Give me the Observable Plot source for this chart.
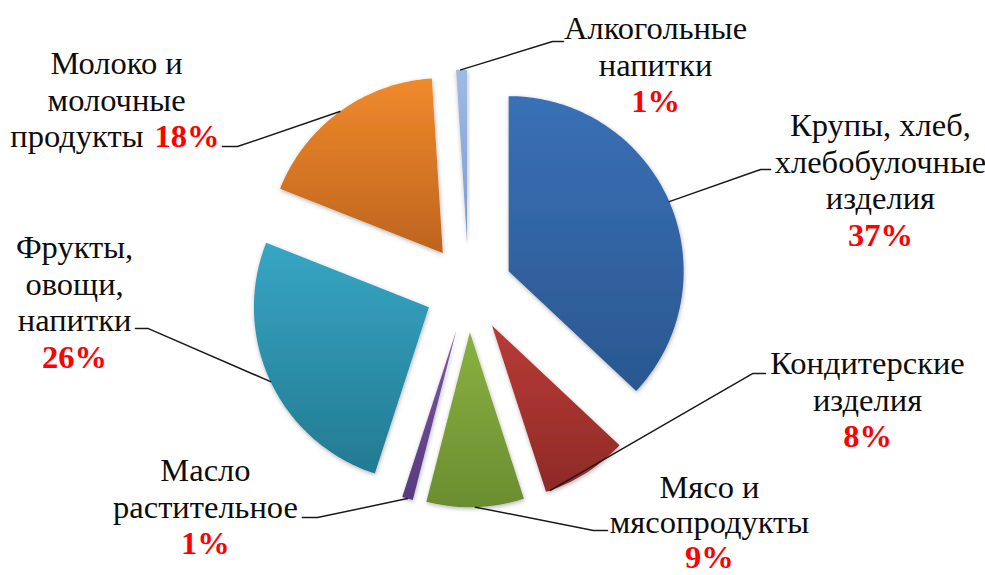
<!DOCTYPE html>
<html>
<head>
<meta charset="utf-8">
<script src="https://cdn.jsdelivr.net/npm/d3@7"></script>
<script src="https://cdn.jsdelivr.net/npm/@observablehq/plot@0.6"></script>
<style>
  html, body { margin: 0; padding: 0; background: #fff; }
  #chart svg { display: block; }
</style>
</head>
<body>
<div id="chart"></div>
<script>
// ---------- data ----------
const categories = [
  "Крупы, хлеб, хлебобулочные изделия",
  "Кондитерские изделия",
  "Мясо и мясопродукты",
  "Масло растительное",
  "Фрукты, овощи, напитки",
  "Молоко и молочные продукты",
  "Алкогольные напитки"
];
const labelLines = [
  ["Крупы, хлеб,", "хлебобулочные", "изделия"],
  ["Кондитерские", "изделия"],
  ["Мясо и", "мясопродукты"],
  ["Масло", "растительное"],
  ["Фрукты,", "овощи,", "напитки"],
  ["Молоко и", "молочные", "продукты"],
  ["Алкогольные", "напитки"]
];
const shares = [37, 8, 9, 1, 26, 18, 1];

// ---------- styles ----------
const colorTop    = ["#3a70b6", "#b93b37", "#8ab142", "#7a5aa2", "#37a6c4", "#f08a2c", "#9fbbe4"];
const colorBottom = ["#2a578f", "#8e2a27", "#6b8d30", "#573a7e", "#237a91", "#bd641e", "#7b9ad0"];

// ---------- layout (chart units: 1 = pie radius) ----------
const W = 985, H = 575, R = 175, CX = 468, CY = 288;
const explode = 0.25;
const fontSize = 32.5;
const labelX    = [2.354, 2.280, 1.377, -1.503, -2.251, -2.011, 1.069];
const labelY0   = [0.931, -0.429, -1.137, -1.040, 0.234, 1.286, 1.486];
const labelStep = [0.21, 0.21, 0.20, 0.21, 0.21, 0.21, 0.21];
const pctInline = [false, false, false, false, false, true, false];
const inlineX = [-1.857, -1.794]; // end of words, start of percent
const leaderAngleDeg = [null, 160.5, null, null, null, null, 357.9];
const leaderElbow = [[1.669, 0.680], [1.623, -0.486], [0.714, -1.383], [-0.863, -1.309], [-1.829, -0.229], [-1.320, 0.811], [0.480, 1.411]];
const leaderEnd   = [[1.726, 0.680], [1.697, -0.486], [0.794, -1.383], [-0.949, -1.309], [-1.903, -0.229], [-1.406, 0.811], [0.543, 1.411]];

// ---------- geometry from values ----------
const pie = d3.pie().sort(null).value(d => d)(shares);
const slices = pie.map((p, i) => {
  const mid = (p.startAngle + p.endAngle) / 2;
  const cx = explode * Math.sin(mid), cy = explode * Math.cos(mid);
  const pts = [{x: cx, y: cy}];
  const n = Math.max(2, Math.ceil((p.endAngle - p.startAngle) / (Math.PI / 180)));
  for (let k = 0; k <= n; k++) {
    const a = p.startAngle + (p.endAngle - p.startAngle) * k / n;
    pts.push({x: cx + Math.sin(a), y: cy + Math.cos(a)});
  }
  return {i, mid, cx, cy, pts};
});

const leaders = [];
slices.forEach(s => {
  const a = leaderAngleDeg[s.i] != null ? leaderAngleDeg[s.i] * Math.PI / 180 : s.mid;
  leaders.push({i: s.i, x: s.cx + Math.sin(a), y: s.cy + Math.cos(a)});
  leaders.push({i: s.i, x: leaderElbow[s.i][0], y: leaderElbow[s.i][1]});
  leaders.push({i: s.i, x: leaderEnd[s.i][0], y: leaderEnd[s.i][1]});
});

const rows = [];
labelLines.forEach((lines, i) => {
  lines.forEach((t, j) => {
    const y = labelY0[i] - j * labelStep[i];
    if (pctInline[i] && j === lines.length - 1) {
      rows.push({x: inlineX[0], y, text: t, kind: "word", anchor: "end"});
      rows.push({x: inlineX[1], y, text: shares[i] + "%", kind: "pct", anchor: "start"});
    } else {
      rows.push({x: labelX[i], y, text: t, kind: "word", anchor: "middle"});
    }
  });
  if (!pctInline[i]) {
    rows.push({x: labelX[i], y: labelY0[i] - lines.length * labelStep[i], text: shares[i] + "%", kind: "pct", anchor: "middle"});
  }
});

const font = "Liberation Serif, Times New Roman, serif";
const textMarks = [];
for (const kind of ["word", "pct"]) {
  for (const anchor of ["middle", "start", "end"]) {
    const data = rows.filter(r => r.kind === kind && r.anchor === anchor);
    if (!data.length) continue;
    textMarks.push(Plot.text(data, {
      x: "x", y: "y", text: "text",
      textAnchor: anchor,
      lineAnchor: "middle",
      fontSize,
      fontFamily: font,
      fontWeight: kind === "pct" ? "bold" : "normal",
      fill: kind === "pct" ? "#ff0000" : "#0d0d0d"
    }));
  }
}

const svg = Plot.plot({
  width: W, height: H,
  margin: 0,
  x: {domain: [-CX / R, (W - CX) / R], axis: null},
  y: {domain: [-(H - CY) / R, CY / R], axis: null},
  marks: [
    ...slices.map(s => Plot.line(s.pts, {
      x: "x", y: "y", curve: "linear-closed",
      fill: `url(#grad${s.i})`, stroke: "none"
    })),
    Plot.line(leaders, {x: "x", y: "y", z: "i", stroke: "#1a1a1a", strokeWidth: 1.5, curve: "linear"}),
    ...textMarks
  ]
});

// gradients and soft shadow
const root = d3.select(svg);
const defs = root.insert("defs", ":first-child");
colorTop.forEach((c, i) => {
  const g = defs.append("linearGradient").attr("id", "grad" + i)
    .attr("x1", 0).attr("y1", 0).attr("x2", 0).attr("y2", 1);
  g.append("stop").attr("offset", "0%").attr("stop-color", c);
  g.append("stop").attr("offset", "100%").attr("stop-color", colorBottom[i]);
});
const f = defs.append("filter").attr("id", "shadow")
  .attr("x", "-20%").attr("y", "-20%").attr("width", "140%").attr("height", "140%");
f.append("feDropShadow").attr("dx", 0.5).attr("dy", 1.5).attr("stdDeviation", 2)
  .attr("flood-color", "#000").attr("flood-opacity", 0.3);
const lineGroups = svg.querySelectorAll('g[aria-label="line"]');
for (let k = 0; k < slices.length; k++) lineGroups[k].setAttribute("filter", "url(#shadow)");

document.getElementById("chart").appendChild(svg);
</script>
</body>
</html>
